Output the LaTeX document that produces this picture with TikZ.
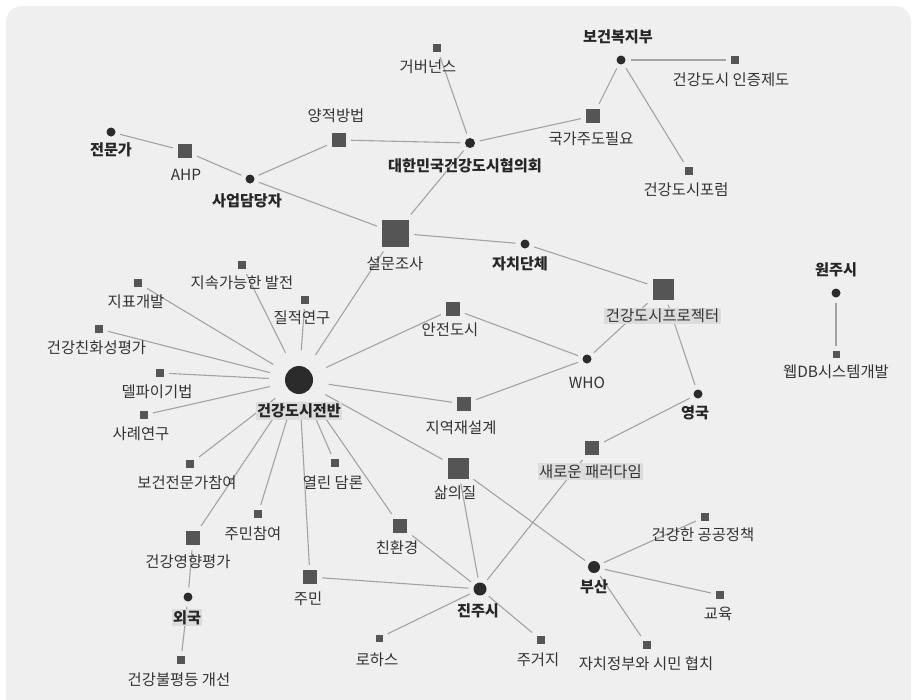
\documentclass[tikz,border=0pt]{standalone}
\usepackage{fontspec}
\setmainfont{Noto Sans CJK KR}
\definecolor{bgc}{HTML}{EFEFEF}
\definecolor{sqc}{HTML}{555555}
\definecolor{dotc}{HTML}{2B2B2B}
\definecolor{linec}{HTML}{A3A3A3}
\definecolor{txtc}{HTML}{333333}
\definecolor{btxt}{HTML}{262626}
\definecolor{hlc}{HTML}{DCDCDC}
\begin{document}
\begin{tikzpicture}[x=1pt,y=-1pt,
  entdot/.style={circle,fill=dotc,inner sep=0pt,minimum size=#1,outer sep=5pt},
  entdot/.default=9pt,
  sqs/.style={rectangle,fill=sqc,inner sep=0pt,minimum size=#1,outer sep=5pt},
  sqs/.default=8pt,
  lbl/.style={text=txtc,inner sep=1pt,font=\fontsize{15.4}{17}\selectfont},
  blbl/.style={text=btxt,inner sep=1pt,font=\fontsize{15.2}{17}\selectfont\bfseries},
  hl/.style={fill=hlc,inner sep=1.5pt},
  link/.style={draw=linec,line width=1.1pt}]
\useasboundingbox (0,0) rectangle (913,699);
\fill[bgc,rounded corners=16pt] (6,6) rectangle (911,716);

% ---- shapes ----
\node[entdot] (jm) at (111,132) {};
\node[sqs=14pt] (ahp) at (185,151) {};
\node[entdot] (sa) at (250,179) {};
\node[sqs=14pt] (yj) at (339,140) {};
\node[sqs] (gb) at (437,48) {};
\node[entdot=10pt] (hy) at (470,143) {};
\node[entdot] (bw) at (621,60) {};
\node[sqs] (ij) at (735,60) {};
\node[sqs=14pt] (gg) at (593,116) {};
\node[sqs] (pr) at (689,171) {};
\node[sqs=27pt] (sm) at (395.5,233) {};
\node[entdot] (jc) at (525,244) {};
\node[sqs=21pt] (pj) at (663,289) {};
\node[sqs=14pt] (an) at (453,309) {};
\node[entdot] (who) at (587,359) {};
\node[sqs=14pt] (jy) at (464,404) {};
\node[entdot] (uk) at (698,394) {};
\node[entdot] (wj) at (836,293) {};
\node[sqs=7pt] (wd) at (836,354) {};
\node[sqs=14pt] (np) at (592,448) {};
\node[entdot=28pt,outer sep=16pt] (ct) at (299,380) {};
\node[sqs] (jp) at (138,283) {};
\node[sqs] (sb) at (242,265) {};
\node[sqs] (jr) at (305,300) {};
\node[sqs] (hf) at (99,329) {};
\node[sqs] (dp) at (160,373) {};
\node[sqs] (sr) at (144,415) {};
\node[sqs] (bj) at (190,464) {};
\node[sqs] (yd) at (335,463) {};
\node[sqs] (jmc) at (258,514) {};
\node[sqs=14pt] (hi) at (193,538) {};
\node[entdot] (fr) at (188,597) {};
\node[sqs] (ie) at (181,660) {};
\node[sqs=14pt] (jmn) at (310,577) {};
\node[sqs=14pt] (ch) at (400,526) {};
\node[sqs=7pt] (rh) at (379,638) {};
\node[sqs=21pt] (sq) at (458,468) {};
\node[entdot=13pt] (jj) at (480,589) {};
\node[entdot=12pt] (bs) at (594,567) {};
\node[sqs] (gp) at (705,517) {};
\node[sqs] (ed) at (720,595) {};
\node[sqs] (hc) at (647,645) {};
\node[sqs] (jg) at (541,640) {};

% ---- connectors ----
\draw[link] (jm) -- (ahp);
\draw[link] (ahp) -- (sa);
\draw[link] (sa) -- (yj);
\draw[link] (sa) -- (sm);
\draw[link] (yj) -- (hy);
\draw[link] (gb) -- (hy);
\draw[link] (hy) -- (gg);
\draw[link] (hy) -- (sm);
\draw[link] (gg) -- (bw);
\draw[link] (bw) -- (ij);
\draw[link] (bw) -- (pr);
\draw[link] (sm) -- (jc);
\draw[link] (jc) -- (pj);
\draw[link] (ct) -- (sm);
\foreach \t in {jp,sb,jr,hf,dp,sr,bj,yd,jmc,hi,jmn,ch,sq,jy,an}
  \draw[link] (ct) -- (\t);
\draw[link] (an) -- (who);
\draw[link] (jy) -- (who);
\draw[link] (who) -- (pj);
\draw[link] (pj) -- (uk);
\draw[link] (uk) -- (np);
\draw[link] (np) -- (jj);
\draw[link] (sq) -- (jj);
\draw[link] (sq) -- (bs);
\draw[link] (ch) -- (jj);
\draw[link] (jmn) -- (jj);
\draw[link] (jj) -- (rh);
\draw[link] (jj) -- (jg);
\draw[link] (bs) -- (gp);
\draw[link] (bs) -- (ed);
\draw[link] (bs) -- (hc);
\draw[link] (hi) -- (fr);
\draw[link] (fr) -- (ie);
\draw[link] (wj) -- (wd);

% ---- labels ----
\node[blbl] (Ljm) at (111,150) {전문가};
\node[lbl] (Lahp) at (186,175) {AHP};
\node[blbl] (Lsa) at (247,201) {사업담당자};
\node[lbl] (Lyj) at (336,116) {양적방법};
\node[lbl] (Lgb) at (428,67) {거버넌스};
\node[blbl] (Lhy) at (465,166) {대한민국건강도시협의회};
\node[blbl] (Lbw) at (618,37) {보건복지부};
\node[lbl] (Lij) at (731,80) {건강도시 인증제도};
\node[lbl] (Lgg) at (591,139) {국가주도필요};
\node[lbl] (Lpr) at (686,190) {건강도시포럼};
\node[lbl] (Lsm) at (395,264) {설문조사};
\node[blbl] (Ljc) at (520,264) {자치단체};
\node[lbl,hl] (Lpj) at (662.5,316) {건강도시프로젝터};
\node[lbl] (Lan) at (450,330) {안전도시};
\node[lbl] (Lwho) at (587,383) {WHO};
\node[lbl] (Ljy) at (461,428) {지역재설계};
\node[blbl] (Luk) at (695,413) {영국};
\node[blbl] (Lwj) at (836,270) {원주시};
\node[lbl] (Lwd) at (836,372) {웹DB시스템개발};
\node[lbl,hl] (Lnp) at (590.5,471.5) {새로운 패러다임};
\node[blbl,hl] (Lct) at (299,411) {건강도시전반};
\node[lbl] (Ljp) at (136,302) {지표개발};
\node[lbl] (Lsb) at (242,283) {지속가능한 발전};
\node[lbl] (Ljr) at (302,318) {질적연구};
\node[lbl] (Lhf) at (96.5,348) {건강친화성평가};
\node[lbl] (Ldp) at (157,392) {델파이기법};
\node[lbl] (Lsr) at (141,434) {사례연구};
\node[lbl] (Lbj) at (187,483) {보건전문가참여};
\node[lbl] (Lyd) at (333,483) {열린 담론};
\node[lbl] (Ljmc) at (253,534) {주민참여};
\node[lbl] (Lhi) at (188,562) {건강영향평가};
\node[blbl,hl] (Lfr) at (187,617.5) {외국};
\node[lbl] (Lie) at (179,680) {건강불평등 개선};
\node[lbl] (Ljmn) at (308,599) {주민};
\node[lbl] (Lch) at (397,548) {친환경};
\node[lbl] (Lrh) at (377,660) {로하스};
\node[lbl] (Lsq) at (455,493) {삶의질};
\node[blbl] (Ljj) at (478,611) {진주시};
\node[blbl] (Lbs) at (594,587) {부산};
\node[lbl] (Lgp) at (703,535) {건강한 공공정책};
\node[lbl] (Led) at (718,614) {교육};
\node[lbl] (Lhc) at (646,664) {자치정부와 시민 협치};
\node[lbl] (Ljg) at (538,660) {주거지};
\end{tikzpicture}
\end{document}
